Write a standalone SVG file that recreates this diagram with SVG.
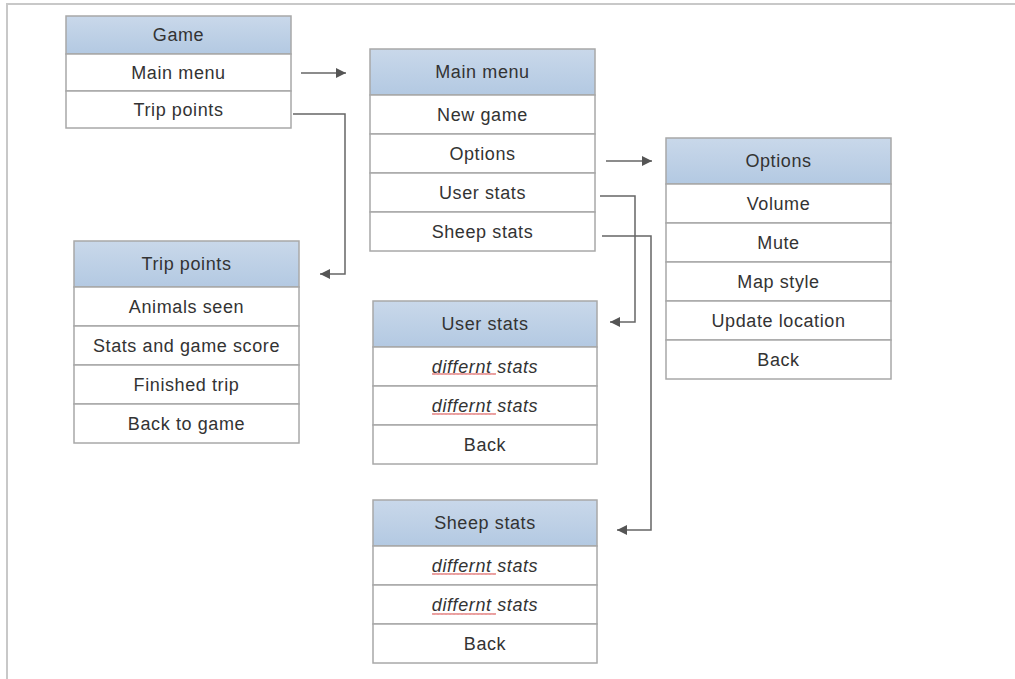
<svg xmlns="http://www.w3.org/2000/svg" width="1015" height="679" viewBox="0 0 1015 679">
  <defs>
    <linearGradient id="hdr" x1="0" y1="0" x2="0" y2="1">
      <stop offset="0" stop-color="#c9d8ea"/>
      <stop offset="1" stop-color="#b3c9e2"/>
    </linearGradient>
    <marker id="arrow" viewBox="0 0 10 10" refX="10" refY="5" markerWidth="13" markerHeight="10" markerUnits="userSpaceOnUse" orient="auto">
      <path d="M0,0 L10,5 L0,10 Z" fill="#555"/>
    </marker>
    <pattern id="squiggle" width="4" height="4" patternUnits="userSpaceOnUse">
      <path d="M0,3 L1,1 L2,3 L3,1 L4,3" fill="none" stroke="#e07070" stroke-width="0.8"/>
    </pattern>
  </defs>
  <style>
    .hd { fill: url(#hdr); stroke: #a8a8a8; stroke-width: 1.5; }
    .row { fill: #ffffff; stroke: #a8a8a8; stroke-width: 1.5; }
    text { font-family: "Liberation Sans", Arial, sans-serif; font-size: 18px; letter-spacing: 0.6px; fill: #333; text-anchor: middle; dominant-baseline: central; }
    .it { font-style: italic; }
    .conn { fill: none; stroke: #666; stroke-width: 1.5; }
    .frame { stroke: #c8c8c8; stroke-width: 2; fill: none; }
  </style>

  <rect width="1015" height="679" fill="#ffffff"/>
  <path class="frame" d="M7,679 L7,4 L1015,4"/>

  <!-- Game -->
  <g id="game">
    <rect class="hd" x="66" y="16" width="225" height="38"/>
    <text x="178.5" y="35">Game</text>
    <rect class="row" x="66" y="54" width="225" height="37"/>
    <text x="178.5" y="72.5">Main menu</text>
    <rect class="row" x="66" y="91" width="225" height="37"/>
    <text x="178.5" y="109.5">Trip points</text>
  </g>

  <!-- Main menu -->
  <g id="main-menu">
    <rect class="hd" x="370" y="49" width="225" height="46"/>
    <text x="482.5" y="72">Main menu</text>
    <rect class="row" x="370" y="95" width="225" height="39"/>
    <text x="482.5" y="114.5">New game</text>
    <rect class="row" x="370" y="134" width="225" height="39"/>
    <text x="482.5" y="153.5">Options</text>
    <rect class="row" x="370" y="173" width="225" height="39"/>
    <text x="482.5" y="192.5">User stats</text>
    <rect class="row" x="370" y="212" width="225" height="39"/>
    <text x="482.5" y="231.5">Sheep stats</text>
  </g>

  <!-- Options -->
  <g id="options">
    <rect class="hd" x="666" y="138" width="225" height="46"/>
    <text x="778.5" y="161">Options</text>
    <rect class="row" x="666" y="184" width="225" height="39"/>
    <text x="778.5" y="203.5">Volume</text>
    <rect class="row" x="666" y="223" width="225" height="39"/>
    <text x="778.5" y="242.5">Mute</text>
    <rect class="row" x="666" y="262" width="225" height="39"/>
    <text x="778.5" y="281.5">Map style</text>
    <rect class="row" x="666" y="301" width="225" height="39"/>
    <text x="778.5" y="320.5">Update location</text>
    <rect class="row" x="666" y="340" width="225" height="39"/>
    <text x="778.5" y="359.5">Back</text>
  </g>

  <!-- Trip points -->
  <g id="trip-points">
    <rect class="hd" x="74" y="241" width="225" height="46"/>
    <text x="186.5" y="264">Trip points</text>
    <rect class="row" x="74" y="287" width="225" height="39"/>
    <text x="186.5" y="306.5">Animals seen</text>
    <rect class="row" x="74" y="326" width="225" height="39"/>
    <text x="186.5" y="345.5">Stats and game score</text>
    <rect class="row" x="74" y="365" width="225" height="39"/>
    <text x="186.5" y="384.5">Finished trip</text>
    <rect class="row" x="74" y="404" width="225" height="39"/>
    <text x="186.5" y="423.5">Back to game</text>
  </g>

  <!-- User stats -->
  <g id="user-stats">
    <rect class="hd" x="373" y="301" width="224" height="46"/>
    <text x="485" y="324">User stats</text>
    <rect class="row" x="373" y="347" width="224" height="39"/>
    <text class="it" x="485" y="366.5">differnt stats</text>
    <rect x="432" y="373" width="64" height="4" fill="url(#squiggle)"/>
    <rect class="row" x="373" y="386" width="224" height="39"/>
    <text class="it" x="485" y="405.5">differnt stats</text>
    <rect x="432" y="412" width="64" height="4" fill="url(#squiggle)"/>
    <rect class="row" x="373" y="425" width="224" height="39"/>
    <text x="485" y="444.5">Back</text>
  </g>

  <!-- Sheep stats -->
  <g id="sheep-stats">
    <rect class="hd" x="373" y="500" width="224" height="46"/>
    <text x="485" y="523">Sheep stats</text>
    <rect class="row" x="373" y="546" width="224" height="39"/>
    <text class="it" x="485" y="565.5">differnt stats</text>
    <rect x="432" y="572" width="64" height="4" fill="url(#squiggle)"/>
    <rect class="row" x="373" y="585" width="224" height="39"/>
    <text class="it" x="485" y="604.5">differnt stats</text>
    <rect x="432" y="611" width="64" height="4" fill="url(#squiggle)"/>
    <rect class="row" x="373" y="624" width="224" height="39"/>
    <text x="485" y="643.5">Back</text>
  </g>

  <!-- Connectors -->
  <g id="connectors">
    <path class="conn" d="M301,73 L346,73" marker-end="url(#arrow)"/>
    <path class="conn" d="M293,114 L345,114 L345,274 L320,274" marker-end="url(#arrow)"/>
    <path class="conn" d="M606,161 L652,161" marker-end="url(#arrow)"/>
    <path class="conn" d="M600,196 L635,196 L635,322 L610,322" marker-end="url(#arrow)"/>
    <path class="conn" d="M602,236 L651,236 L651,530 L617,530" marker-end="url(#arrow)"/>
  </g>
</svg>
